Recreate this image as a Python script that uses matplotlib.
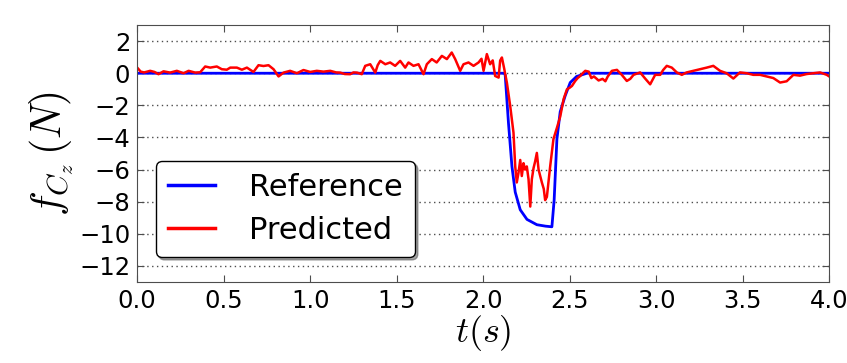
import matplotlib
matplotlib.use("Agg")
import matplotlib.pyplot as plt

plt.rcParams["mathtext.fontset"] = "cm"
plt.rcParams["font.family"] = "DejaVu Sans"

# reference contact force
ref_t = [0.0, 2.12, 2.127, 2.146, 2.166, 2.185, 2.214, 2.253, 2.31, 2.36,
         2.397, 2.41, 2.426, 2.445, 2.474, 2.503, 2.54, 2.6, 4.0]
ref_f = [0.0, 0.0, -0.1, -3.1, -5.8, -7.4, -8.5, -9.1, -9.43, -9.52,
         -9.56, -7.9, -4.1, -2.4, -1.4, -0.58, -0.2, 0.0, 0.0]

# predicted contact force
pred_t = [0.0, 0.02, 0.04, 0.075, 0.1, 0.123, 0.152, 0.19, 0.229, 0.268,
          0.297, 0.335, 0.364, 0.393, 0.422, 0.46, 0.489, 0.518, 0.538, 0.576,
          0.605, 0.634, 0.672, 0.701, 0.73, 0.759, 0.788, 0.817, 0.846, 0.884,
          0.923, 0.961, 1.0, 1.038, 1.077, 1.116, 1.15, 1.173, 1.2, 1.231,
          1.25, 1.27, 1.298, 1.318, 1.347, 1.376, 1.39, 1.405, 1.434, 1.462,
          1.491, 1.52, 1.549, 1.568, 1.597, 1.626, 1.655, 1.674, 1.703, 1.731,
          1.761, 1.79, 1.818, 1.838, 1.867, 1.886, 1.915, 1.944, 1.973, 1.99,
          2.002, 2.021, 2.04, 2.055, 2.069, 2.089, 2.098, 2.108, 2.121, 2.137,
          2.156, 2.175, 2.185, 2.194, 2.204, 2.214, 2.223, 2.233, 2.242, 2.252,
          2.262, 2.272, 2.281, 2.291, 2.3, 2.31, 2.32, 2.339, 2.35, 2.358,
          2.368, 2.387, 2.406, 2.426, 2.445, 2.465, 2.484, 2.5, 2.513, 2.532,
          2.546, 2.561, 2.575, 2.59, 2.61, 2.625, 2.64, 2.667, 2.69, 2.706,
          2.72, 2.744, 2.773, 2.801, 2.83, 2.85, 2.869, 2.907, 2.936, 2.965,
          2.994, 3.023, 3.04, 3.061, 3.09, 3.119, 3.148, 3.176, 3.215, 3.254,
          3.292, 3.33, 3.35, 3.369, 3.407, 3.446, 3.484, 3.523, 3.561, 3.6,
          3.639, 3.677, 3.716, 3.754, 3.793, 3.831, 3.87, 3.908, 3.947, 3.986,
          4.0]
pred_f = [0.35, 0.1, 0.05, 0.15, 0.08, -0.06, 0.12, 0.04, 0.15, 0.0,
          0.15, 0.04, 0.06, 0.42, 0.35, 0.42, 0.25, 0.22, 0.35, 0.35,
          0.22, 0.35, 0.08, 0.5, 0.45, 0.5, 0.25, -0.2, 0.04, 0.15,
          0.0, 0.2, 0.08, 0.15, 0.1, 0.15, 0.05, 0.04, -0.05, -0.06,
          0.05, 0.04, -0.06, 0.46, 0.56, 0.04, 0.5, 0.77, 0.56, 0.67,
          0.46, 0.77, 0.35, 0.67, 0.46, 0.56, -0.06, 0.56, 0.88, 0.67,
          1.08, 0.88, 1.29, 0.88, 0.15, 0.56, 0.67, 0.46, 0.67, 0.9,
          0.15, 1.19, 0.56, 0.8, -0.17, -0.27, 0.79, 0.98, 0.3, -0.6,
          -2.04, -3.7, -5.8, -6.8, -6.2, -5.4, -6.4, -5.6, -6.0, -5.8,
          -6.6, -8.3, -6.6, -5.9, -5.5, -4.96, -6.0, -6.8, -7.2, -7.9,
          -7.7, -5.8, -4.1, -3.4, -2.7, -1.6, -1.0, -0.9, -0.79, -0.48,
          -0.3, -0.17, 0.0, 0.15, 0.1, -0.3, -0.2, -0.45, -0.35, -0.5,
          -0.2, 0.15, 0.21, -0.1, -0.48, -0.35, -0.1, 0.05, -0.33, -0.69,
          -0.1, -0.1, 0.2, 0.46, 0.35, 0.05, -0.1, 0.05, 0.15, 0.25,
          0.35, 0.46, 0.3, 0.15, 0.0, -0.33, 0.05, 0.0, -0.1, -0.1,
          -0.2, -0.3, -0.58, -0.5, -0.1, -0.15, -0.05, 0.0, 0.05, -0.1,
          -0.2]

x_ticks = [0.0, 0.5, 1.0, 1.5, 2.0, 2.5, 3.0, 3.5, 4.0]
y_ticks = [2, 0, -2, -4, -6, -8, -10, -12]

fig = plt.figure(figsize=(8.47, 3.63), dpi=100)
ax = fig.add_axes([0.162, 0.223, 0.817, 0.708])

ax.plot(ref_t, ref_f, color="blue", linewidth=2, label="Reference")
ax.plot(pred_t, pred_f, color="red", linewidth=1.8, label="Predicted")

ax.set_xlim(0, 4)
ax.set_ylim(-13, 3)
ax.set_xticks(x_ticks)
ax.set_yticks(y_ticks)
ax.set_xticklabels([f"{v:.1f}" for v in x_ticks])
ax.set_yticklabels([f"{v}".replace("-", "\u2212") for v in y_ticks])
ax.tick_params(direction="in", top=True, right=True, length=5,
               labelsize=17.5, color="0.3", pad=5)
for sp in ax.spines.values():
    sp.set_color("0.3")

ax.yaxis.grid(True, linestyle=(0, (1, 2.5)), color="0.3", linewidth=1)

ax.set_xlabel("$t(s)$", fontsize=26, labelpad=0)
ax.set_ylabel("$f_{C_z}\\,(N)$", fontsize=30, labelpad=2)

leg = ax.legend(loc="lower left", bbox_to_anchor=(0.027, 0.097),
                borderaxespad=0, fontsize=22, fancybox=True, shadow=True,
                handlelength=1.55, handletextpad=1.1, labelspacing=0.45,
                borderpad=0.4, framealpha=1, edgecolor="black")
for line in leg.get_lines():
    line.set_linewidth(2.5)

fig.savefig("out.png", dpi=100)
